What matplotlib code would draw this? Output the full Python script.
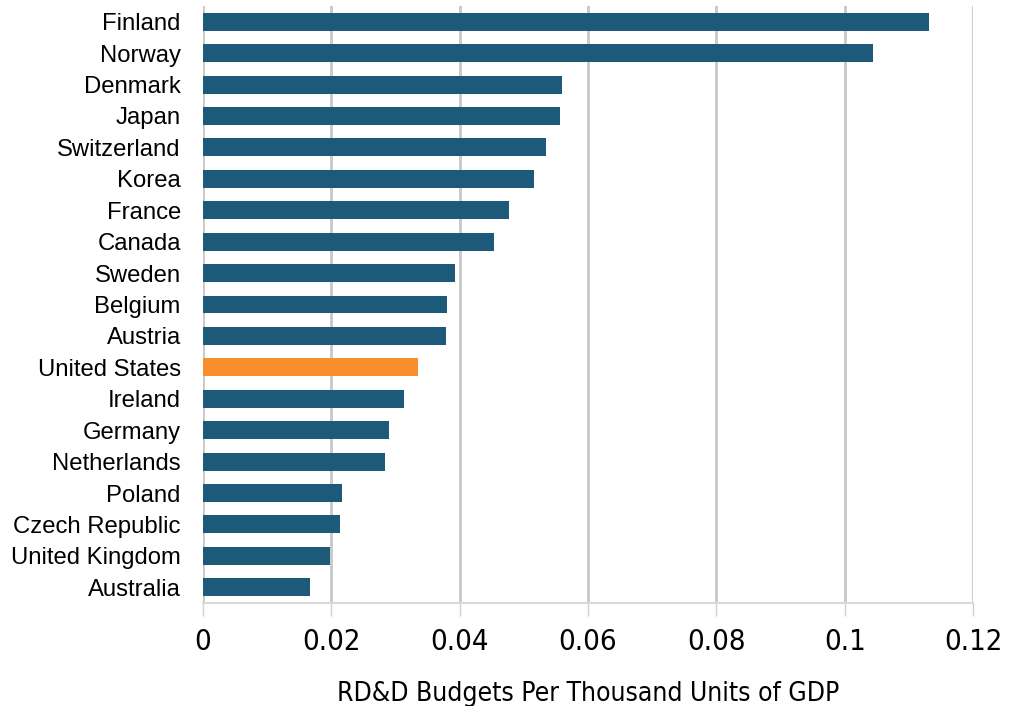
import matplotlib.pyplot as plt
import matplotlib.font_manager as fm

countries = ['Finland', 'Norway', 'Denmark', 'Japan', 'Switzerland', 'Korea',
             'France', 'Canada', 'Sweden', 'Belgium', 'Austria', 'United States',
             'Ireland', 'Germany', 'Netherlands', 'Poland', 'Czech Republic',
             'United Kingdom', 'Australia']
values = [0.1131, 0.1044, 0.0560, 0.0556, 0.0535, 0.0516, 0.0477, 0.0453,
          0.0393, 0.0380, 0.0379, 0.0335, 0.0313, 0.0290, 0.0283, 0.0216,
          0.0213, 0.0198, 0.0167]
xticks = [0, 0.02, 0.04, 0.06, 0.08, 0.1, 0.12]
xticklabels = ['0', '0.02', '0.04', '0.06', '0.08', '0.1', '0.12']

# condensed face for the x axis texts
narrow = fm.FontProperties(family='DejaVu Sans', stretch='condensed')

blue = '#1d5a7a'
orange = '#f88f2c'
colors = [orange if c == 'United States' else blue for c in countries]

fig = plt.figure(figsize=(10.16, 7.06), dpi=100)
ax = fig.add_axes([0.1998, 0.1459, 0.7579, 0.8456])
ax.barh(range(len(countries)), values, height=0.57, color=colors, zorder=3)
ax.set_ylim(len(countries) - 0.5, -0.5)
ax.set_xlim(0, 0.12)
ax.set_yticks(range(len(countries)))
ax.set_yticklabels(countries, fontsize=17.2, family='Liberation Sans')
ax.set_xticks(xticks)
ax.set_xticklabels(xticklabels)
for t in ax.get_xticklabels():
    t.set_fontproperties(narrow)
    t.set_fontsize(21)
ax.tick_params(axis='y', length=0, pad=16)
ax.tick_params(axis='x', length=9, width=1, color='#d0d0d0', pad=9)
ax.grid(axis='x', color='#c8c8c8', linewidth=2, zorder=0)
for s in ['top', 'right', 'left']:
    ax.spines[s].set_visible(False)
ax.spines['bottom'].set_color('#d9d9d9')
ax.spines['bottom'].set_linewidth(1.5)
ax.set_xlabel('RD&D Budgets Per Thousand Units of GDP', fontproperties=narrow,
              labelpad=18)
ax.xaxis.label.set_fontsize(19)
fig.savefig('out.png', dpi=100)
